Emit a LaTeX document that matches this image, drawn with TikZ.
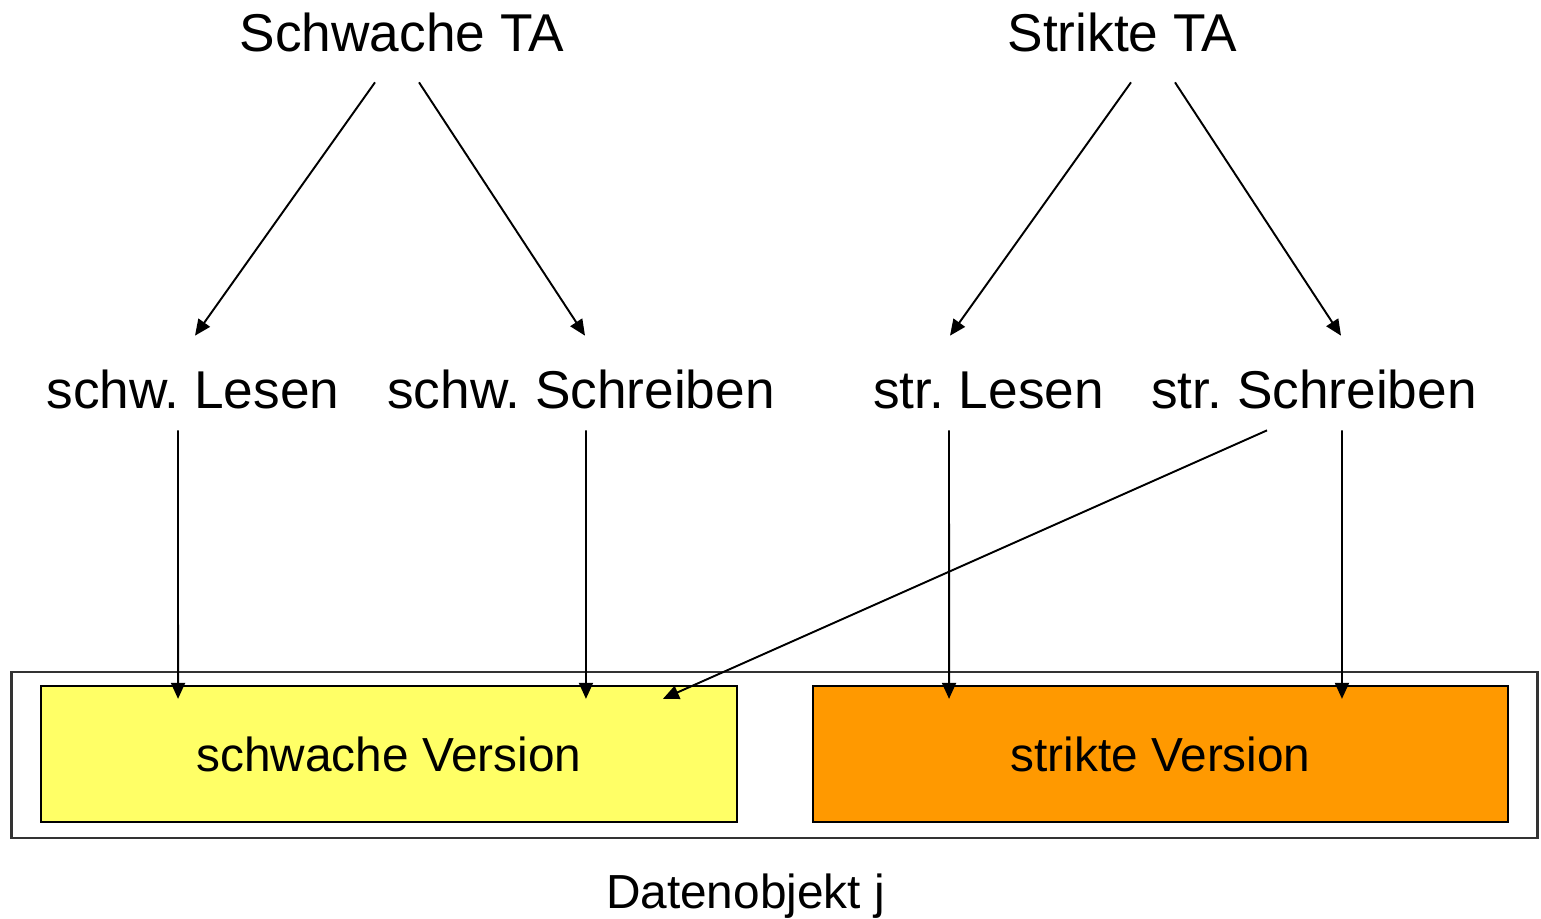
\documentclass[tikz,border=0pt]{standalone}
\usepackage{fontspec}
\setmainfont{Liberation Sans}
\usetikzlibrary{arrows.meta}
\definecolor{weakfill}{HTML}{FFFF66}
\definecolor{strictfill}{HTML}{FF9900}
\frenchspacing
\begin{document}
\begin{tikzpicture}[x=0.02cm,y=-0.02cm,
  every node/.style={font=\fontsize{30.3pt}{36pt}\selectfont},
  small/.style={font=\fontsize{27.2pt}{32pt}\selectfont},
  ta/.style={inner sep=0pt,anchor=base,text depth=0.6cm},
  op/.style={inner sep=0pt,anchor=base,text height=1.44cm,text depth=0.44cm},
  version/.style={draw=black,line width=1.3pt,minimum height=2.72cm,inner sep=0pt,small},
  link/.style={line width=1.1pt,-{Triangle[length=0.32cm,width=0.28cm]}}]
\useasboundingbox (0,0) rectangle (1541,919);

% transactions
\node[ta] (weakTA) at (402,52) {Schwache TA};
\node[ta] (strictTA) at (1122.5,52) {Strikte TA};

% operations
\node[op] (wRead) at (193,408) {schw. Lesen};
\node[op] (wWrite) at (581,408) {schw. Schreiben};
\node[op] (sRead) at (988.5,408) {str. Lesen};
\node[op] (sWrite) at (1314,408) {str. Schreiben};

% data object with its two versions
\node[draw=black!80,line width=1.6pt,minimum width=30.54cm,minimum height=3.32cm,inner sep=0pt] (obj) at (774.5,755) {};
\node[version,fill=weakfill,minimum width=13.92cm] (weakV) at (389,754) {schwache Version};
\node[version,fill=strictfill,minimum width=13.9cm] (strictV) at (1160.5,754) {strikte Version};
\node[inner sep=0pt,anchor=base,small] (objLabel) at (745.5,908) {Datenobjekt j};

% transactions to operations
\draw[link] ([xshift=-0.54cm]weakTA.south) -- ([xshift=0.04cm]wRead.north);
\draw[link] ([xshift=0.34cm]weakTA.south) -- ([xshift=0.08cm]wWrite.north);
\draw[link] ([xshift=0.17cm]strictTA.south) -- ([xshift=-0.77cm]sRead.north);
\draw[link] ([xshift=1.05cm]strictTA.south) -- ([xshift=0.54cm]sWrite.north);

% operations to versions
\draw[link] ([xshift=-0.3cm]wRead.south) -- ([xshift=-4.22cm,yshift=-0.28cm]weakV.north);
\draw[link] ([xshift=0.1cm]wWrite.south) -- ([xshift=3.94cm,yshift=-0.28cm]weakV.north);
\draw[link] ([xshift=-0.79cm]sRead.south) -- ([xshift=-4.23cm,yshift=-0.28cm]strictV.north);
\draw[link] ([xshift=0.56cm]sWrite.south) -- ([xshift=3.63cm,yshift=-0.28cm]strictV.north);
\draw[link] ([xshift=-0.94cm]sWrite.south) -- ([xshift=5.48cm,yshift=-0.28cm]weakV.north);
\end{tikzpicture}
\end{document}
